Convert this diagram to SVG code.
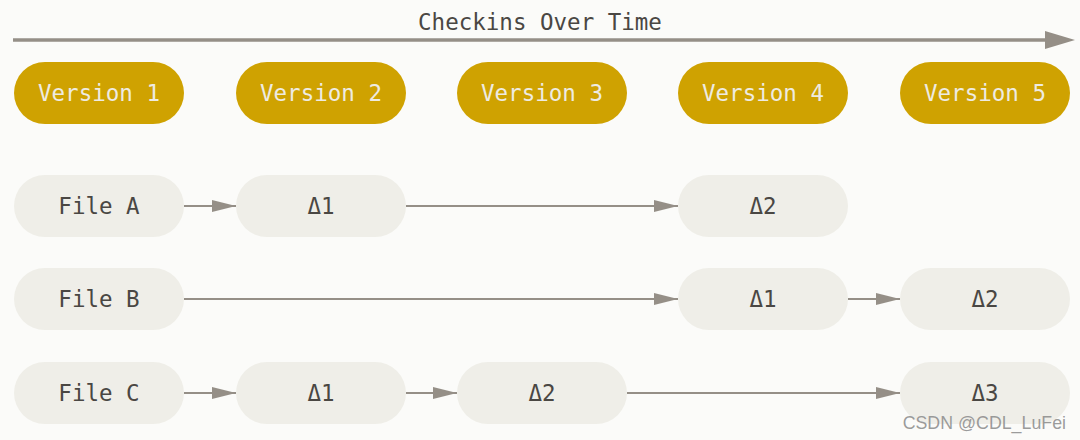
<svg xmlns="http://www.w3.org/2000/svg" width="1080" height="440" viewBox="0 0 1080 440">
<defs>
<marker id="ah" markerWidth="12" markerHeight="6" refX="12" refY="3" orient="auto" markerUnits="strokeWidth">
<path d="M0,0 L12,3 L0,6 Z" fill="#958f87"/>
</marker>
<style>
.ver rect{fill:#cfa201}
.ver text{fill:#eeebe2;font-family:"DejaVu Sans Mono",monospace;font-size:22.5px;text-anchor:middle;dominant-baseline:central}
.fil rect{fill:#efeee8}
.fil text{fill:#4a4743;font-family:"DejaVu Sans Mono",monospace;font-size:22.5px;text-anchor:middle;dominant-baseline:central}
.con line{stroke:#958f87;stroke-width:2;marker-end:url(#ah)}
</style>
</defs>
<rect width="1080" height="440" fill="#fbfbf9"/>
<g id="timeline">
<line x1="13" y1="40" x2="1048" y2="40" stroke="#958f87" stroke-width="3.5"/>
<path d="M1045,31 L1075,40 L1045,49 Z" fill="#958f87"/>
<text x="540" y="22" fill="#4a4743" font-family="DejaVu Sans Mono, monospace" font-size="22.5" text-anchor="middle" dominant-baseline="central">Checkins Over Time</text>
</g>
<g id="v1" class="ver"><rect x="14" y="62" width="170" height="62" rx="31"/><text x="99" y="93">Version 1</text></g>
<g id="v2" class="ver"><rect x="236" y="62" width="170" height="62" rx="31"/><text x="321" y="93">Version 2</text></g>
<g id="v3" class="ver"><rect x="457" y="62" width="170" height="62" rx="31"/><text x="542" y="93">Version 3</text></g>
<g id="v4" class="ver"><rect x="678" y="62" width="170" height="62" rx="31"/><text x="763" y="93">Version 4</text></g>
<g id="v5" class="ver"><rect x="900" y="62" width="170" height="62" rx="31"/><text x="985" y="93">Version 5</text></g>
<g id="fileA" class="fil"><rect x="14" y="175" width="170" height="62" rx="31"/><text x="99" y="206">File A</text></g>
<g id="a1" class="fil"><rect x="236" y="175" width="170" height="62" rx="31"/><text x="321" y="206">Δ1</text></g>
<g id="a2" class="fil"><rect x="678" y="175" width="170" height="62" rx="31"/><text x="763" y="206">Δ2</text></g>
<g id="fileB" class="fil"><rect x="14" y="268" width="170" height="62" rx="31"/><text x="99" y="299">File B</text></g>
<g id="b1" class="fil"><rect x="678" y="268" width="170" height="62" rx="31"/><text x="763" y="299">Δ1</text></g>
<g id="b2" class="fil"><rect x="900" y="268" width="170" height="62" rx="31"/><text x="985" y="299">Δ2</text></g>
<g id="fileC" class="fil"><rect x="14" y="362" width="170" height="62" rx="31"/><text x="99" y="393">File C</text></g>
<g id="c1" class="fil"><rect x="236" y="362" width="170" height="62" rx="31"/><text x="321" y="393">Δ1</text></g>
<g id="c2" class="fil"><rect x="457" y="362" width="170" height="62" rx="31"/><text x="542" y="393">Δ2</text></g>
<g id="c3" class="fil"><rect x="900" y="362" width="170" height="62" rx="31"/><text x="985" y="393">Δ3</text></g>
<g id="connectors" class="con">
<line x1="184" y1="206" x2="236" y2="206"/>
<line x1="406" y1="206" x2="678" y2="206"/>
<line x1="184" y1="299" x2="678" y2="299"/>
<line x1="848" y1="299" x2="900" y2="299"/>
<line x1="184" y1="393" x2="236" y2="393"/>
<line x1="406" y1="393" x2="457" y2="393"/>
<line x1="627" y1="393" x2="900" y2="393"/>
</g>
<text x="1066" y="429" fill="#8a8a8a" fill-opacity="0.85" font-family="Liberation Sans, Arial, sans-serif" font-size="17.8" text-anchor="end">CSDN @CDL_LuFei</text>
</svg>
